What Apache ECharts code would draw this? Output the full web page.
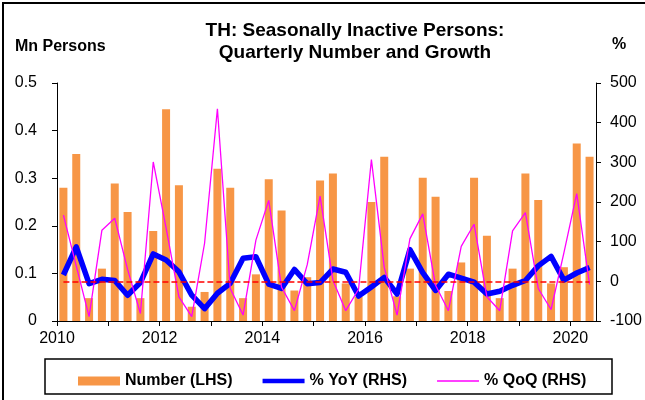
<!DOCTYPE html>
<html>
<head>
<meta charset="utf-8">
<script src="https://cdn.jsdelivr.net/npm/echarts@6/dist/echarts.min.js"></script>
<style>
  html, body { margin: 0; padding: 0; background: #fff; }
  #chart { width: 645px; height: 400px; }
</style>
</head>
<body>
<div id="chart"></div>
<script>
// quarters 2010Q1 .. 2020Q2
const quarters = [
  '2010Q1','2010Q2','2010Q3','2010Q4','2011Q1','2011Q2','2011Q3','2011Q4',
  '2012Q1','2012Q2','2012Q3','2012Q4','2013Q1','2013Q2','2013Q3','2013Q4',
  '2014Q1','2014Q2','2014Q3','2014Q4','2015Q1','2015Q2','2015Q3','2015Q4',
  '2016Q1','2016Q2','2016Q3','2016Q4','2017Q1','2017Q2','2017Q3','2017Q4',
  '2018Q1','2018Q2','2018Q3','2018Q4','2019Q1','2019Q2','2019Q3','2019Q4',
  '2020Q1','2020Q2'
]
// Mn persons (LHS)
const number = [
  0.280, 0.351, 0.048, 0.110, 0.289, 0.229, 0.048, 0.189,
  0.445, 0.285, 0.030, 0.061, 0.320, 0.280, 0.048, 0.098,
  0.298, 0.232, 0.064, 0.092, 0.295, 0.310, 0.079, 0.051,
  0.250, 0.345, 0.052, 0.110, 0.301, 0.261, 0.063, 0.123,
  0.301, 0.179, 0.048, 0.110, 0.310, 0.254, 0.079, 0.113,
  0.373, 0.345
]
// % YoY (RHS)
const yoy = [
  16, 87, -6, 5, 2, -35, -3, 69,
  54, 24, -35, -69, -30, -5, 58, 62,
  -7, -18, 30, -6, -3, 31, 23, -37,
  -14, 10, -32, 80, 22, -23, 18, 8,
  -2, -32, -25, -10, 2, 39, 63, 3,
  21, 35
]
// % QoQ (RHS)
const qoq = [
  167, 39, -89, 129, 159, 30, -81, 301,
  135, -39, -89, 96, 435, -18, -85, 104,
  204, -15, -74, 42, 215, 3, -74, -20,
  307, 35, -85, 107, 170, -10, -74, 88,
  144, -39, -74, 127, 173, -18, -71, 72,
  221, -8
]
const xLabels = [2010, 2012, 2014, 2016, 2018, 2020]

const FONT = '"Liberation Sans", Arial, sans-serif'

// quarter -> position on a year axis (centre of the quarter)
function qPos(q) {
  const [y, n] = q.split('Q')
  return +y + (+n - 0.5) / 4
}
const pairs = arr => quarters.map((q, i) => [qPos(q), arr[i]])

const chart = echarts.init(document.getElementById('chart'))

const option = {
  animation: false,
  backgroundColor: '#fff',
  textStyle: { fontFamily: FONT },
  grid: { left: 57, right: 47, top: 83, bottom: 79 },
  xAxis: {
    type: 'value', min: 2010, max: 2020.5, interval: 1,
    axisLine: { lineStyle: { color: '#000', width: 1 } },
    axisTick: { length: 5, lineStyle: { color: '#000' } },
    axisLabel: { color: '#000', fontSize: 16, margin: 10, showMaxLabel: false,
      formatter: v => xLabels.includes(v) ? String(v) : '' },
    splitLine: { show: false }
  },
  yAxis: [
    { type: 'value', min: 0, max: 0.5, interval: 0.1,
      axisLine: { show: true, lineStyle: { color: '#000' } },
      axisTick: { show: true, length: 5, lineStyle: { color: '#000' } },
      axisLabel: { color: '#000', fontSize: 16, margin: 20 },
      splitLine: { show: false } },
    { type: 'value', min: -100, max: 500, interval: 100, position: 'right',
      axisLine: { show: true, lineStyle: { color: '#000' } },
      axisTick: { show: true, length: 5, lineStyle: { color: '#000' } },
      axisLabel: { color: '#000', fontSize: 16, margin: 14 },
      splitLine: { show: false } }
  ],
  legend: {
    left: 73, top: 368, itemGap: 30, itemWidth: 42, itemHeight: 9,
    textStyle: { color: '#000', fontSize: 16, fontWeight: 'bold', fontFamily: FONT },
    data: [
      { name: 'Number (LHS)', icon: 'rect' },
      { name: '% YoY (RHS)', icon: 'path://M0,0L42,0L42,4.5L0,4.5Z' },
      { name: '% QoQ (RHS)', icon: 'path://M0,0L84,0L84,3L0,3Z' }
    ]
  },
  graphic: [
    { type: 'rect', shape: { x: 3, y: 3, width: 700, height: 500 },
      style: { fill: 'none', stroke: '#000', lineWidth: 2 }, silent: true },
    { type: 'rect', shape: { x: 45, y: 359, width: 567, height: 35 },
      style: { fill: 'none', stroke: '#000', lineWidth: 1.5 }, silent: true },
    { type: 'text', x: 355, y: 31,
      style: { text: 'TH: Seasonally Inactive Persons:', font: 'bold 19px ' + FONT,
        fill: '#000', textAlign: 'center', textVerticalAlign: 'middle' } },
    { type: 'text', x: 355, y: 53,
      style: { text: 'Quarterly Number and Growth', font: 'bold 19px ' + FONT,
        fill: '#000', textAlign: 'center', textVerticalAlign: 'middle' } },
    { type: 'text', x: 15, y: 47,
      style: { text: 'Mn Persons', font: 'bold 16px ' + FONT,
        fill: '#000', textAlign: 'left', textVerticalAlign: 'middle' } },
    { type: 'text', x: 612, y: 45,
      style: { text: '%', font: 'bold 16px ' + FONT,
        fill: '#000', textAlign: 'left', textVerticalAlign: 'middle' } }
  ],
  series: [
    { name: 'Number (LHS)', type: 'bar', yAxisIndex: 0, barWidth: 8,
      itemStyle: { color: '#F79646' }, data: pairs(number) },
    { name: '% YoY (RHS)', type: 'line', yAxisIndex: 1, symbol: 'none', z: 3,
      lineStyle: { color: '#0000FF', width: 5.5, join: 'round' }, itemStyle: { color: '#0000FF' },
      data: pairs(yoy),
      markLine: { silent: true, symbol: 'none', label: { show: false },
        lineStyle: { color: '#FF0000', type: [6, 3], width: 1.5 },
        data: [[ { coord: [qPos(quarters[0]), 0] }, { coord: [qPos(quarters[quarters.length - 1]), 0] } ]] } },
    { name: '% QoQ (RHS)', type: 'line', yAxisIndex: 1, symbol: 'none', z: 4,
      lineStyle: { color: '#FF00FF', width: 1.3 }, itemStyle: { color: '#FF00FF' },
      data: pairs(qoq) }
  ]
}

chart.setOption(option)
</script>
</body>
</html>
